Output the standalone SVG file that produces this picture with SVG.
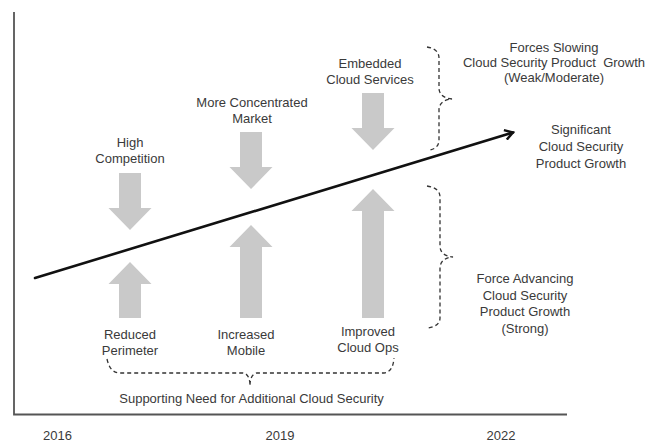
<svg xmlns="http://www.w3.org/2000/svg" width="648" height="442" viewBox="0 0 648 442">
  <style>
    text { font-family: "Liberation Sans", Arial, sans-serif; font-size: 13px; fill: #3a3a3a; text-anchor: middle; }
    .force { fill: #c9c9c9; stroke: none; }
    .axis { stroke: #555; stroke-width: 1.8; fill: none; }
    .brace { stroke: #333; stroke-width: 1.3; fill: none; stroke-dasharray: 4 3; }
    .trend { stroke: #111; stroke-width: 2.6; fill: none; stroke-linecap: round; }
  </style>
  <defs>
    <marker id="openHead" markerWidth="12" markerHeight="12" refX="9" refY="6" orient="auto" markerUnits="userSpaceOnUse">
      <path d="M1,1 L9,6 L1,11" fill="none" stroke="#111" stroke-width="2.4" stroke-linejoin="miter"/>
    </marker>
  </defs>
  <rect width="648" height="442" fill="#ffffff"/>

  <!-- axes -->
  <g id="axes">
    <polyline class="axis" points="14,12 14,414.5 567,414.5"/>
    <text x="57.5" y="439.5">2016</text>
    <text x="280" y="439.5">2019</text>
    <text x="501" y="439.5">2022</text>
  </g>

  <!-- trend line and braces -->
  <g id="connectors">
    <line class="trend" x1="35" y1="278" x2="513" y2="132.5" marker-end="url(#openHead)"/>
    <path class="brace" d="M427,47 Q439,49 439,58 L439,89 Q440,98 452,99 Q440,100 439,109 L439,140 Q439,148 430,150"/>
    <path class="brace" d="M427,186 Q440,188 440,197 L440,247 Q441,256 453,257 Q441,258 440,267 L440,318 Q440,326 428,328"/>
    <path class="brace" d="M107,359 Q110,373 120,373 L243,373 Q250,374 250,386 Q250,374 257,373 L384,373 Q393,372 394,358"/>
  </g>

  <!-- slowing forces (downward) -->
  <g id="high-competition">
    <polygon class="force" points="119,173 141,173 141,208 151.5,208 130,230 108.5,208 119,208"/>
    <text x="130" y="146.5">High</text>
    <text x="130" y="162.5">Competition</text>
  </g>
  <g id="concentrated-market">
    <polygon class="force" points="240,132 262,132 262,167 272.5,167 251,189 229.5,167 240,167"/>
    <text x="252" y="106.5">More Concentrated</text>
    <text x="252" y="122.5">Market</text>
  </g>
  <g id="embedded-services">
    <polygon class="force" points="362,93 384,93 384,128 394.5,128 373,150 351.5,128 362,128"/>
    <text x="370" y="67.5">Embedded</text>
    <text x="370" y="84">Cloud Services</text>
  </g>

  <!-- advancing forces (upward) -->
  <g id="reduced-perimeter">
    <polygon class="force" points="130,262 151.5,284 141,284 141,318 119,318 119,284 108.5,284"/>
    <text x="130" y="338.5">Reduced</text>
    <text x="130" y="355">Perimeter</text>
  </g>
  <g id="increased-mobile">
    <polygon class="force" points="251,225 272.5,247 262,247 262,318 240,318 240,247 229.5,247"/>
    <text x="246" y="338.5">Increased</text>
    <text x="246" y="355">Mobile</text>
  </g>
  <g id="improved-cloud-ops">
    <polygon class="force" points="373,189 394.5,211 384,211 384,318 362,318 362,211 351.5,211"/>
    <text x="368" y="335.5">Improved</text>
    <text x="368" y="351.5">Cloud Ops</text>
  </g>

  <!-- side captions -->
  <g id="slowing-label">
    <text x="554" y="51.5">Forces Slowing</text>
    <text x="554" y="66.5" style="white-space:pre">Cloud Security Product  Growth</text>
    <text x="554" y="81.5">(Weak/Moderate)</text>
  </g>
  <g id="growth-label">
    <text x="581" y="133.5">Significant</text>
    <text x="581" y="150.5">Cloud Security</text>
    <text x="581" y="167.5">Product Growth</text>
  </g>
  <g id="advancing-label">
    <text x="525" y="282.5">Force Advancing</text>
    <text x="525" y="299.5">Cloud Security</text>
    <text x="525" y="316">Product Growth</text>
    <text x="525" y="332.5">(Strong)</text>
  </g>
  <g id="support-label">
    <text x="251.5" y="403">Supporting Need for Additional Cloud Security</text>
  </g>
</svg>
